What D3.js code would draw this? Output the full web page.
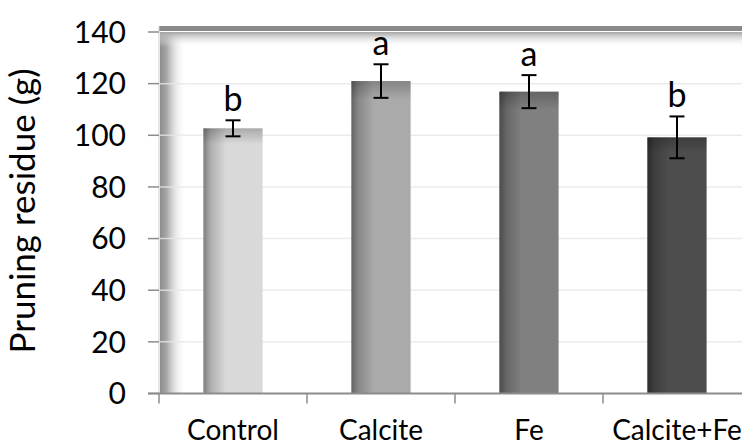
<!DOCTYPE html>
<html>
<head>
<meta charset="utf-8">
<script src="https://cdn.jsdelivr.net/npm/d3@7"></script>
<style>
  body { margin: 0; background: #fff; }
  text { font-family: Lato, "Open Sans", sans-serif; fill: #000; }
</style>
</head>
<body>
<div id="plot"></div>
<script>
var categories = ["Control", "Calcite", "Fe", "Calcite+Fe"];
var means = [102.7, 121.0, 116.9, 99.2];
var errors = [3.1, 6.5, 6.4, 8.1];
var letters = ["b", "a", "a", "b"];
var barColors = ["#d9d9d9", "#aaaaaa", "#808080", "#4d4d4d"];
var yTicks = [0, 20, 40, 60, 80, 100, 120, 140];

var W = 742, H = 446;
var margin = {top: 32, left: 159, right: -9, bottom: 52.5};
var plotBottom = H - margin.bottom;
var plotRight = W - margin.right;

var svg = d3.select("#plot").append("svg")
  .attr("width", W)
  .attr("height", H);

var defs = svg.append("defs");

// wall and floor shading
var wallG = defs.append("linearGradient").attr("id", "wallG")
  .attr("x1", 0).attr("x2", 1).attr("y1", 0).attr("y2", 0);
wallG.append("stop").attr("offset", 0).attr("stop-color", "#8c8c8c").attr("stop-opacity", 1);
wallG.append("stop").attr("offset", 0.25).attr("stop-color", "#9c9c9c").attr("stop-opacity", 0.9);
wallG.append("stop").attr("offset", 1).attr("stop-color", "#ffffff").attr("stop-opacity", 0);

var topG = defs.append("linearGradient").attr("id", "topG")
  .attr("x1", 0).attr("x2", 0).attr("y1", 0).attr("y2", 1);
topG.append("stop").attr("offset", 0).attr("stop-color", "#a4a4a4").attr("stop-opacity", 1);
topG.append("stop").attr("offset", 1).attr("stop-color", "#ffffff").attr("stop-opacity", 0);

// bar shading
var barH = defs.append("linearGradient").attr("id", "barH")
  .attr("x1", 0).attr("x2", 1).attr("y1", 0).attr("y2", 0);
barH.append("stop").attr("offset", 0).attr("stop-color", "#000").attr("stop-opacity", 0.42);
barH.append("stop").attr("offset", 0.12).attr("stop-color", "#000").attr("stop-opacity", 0.2);
barH.append("stop").attr("offset", 0.38).attr("stop-color", "#000").attr("stop-opacity", 0);

var barV = defs.append("linearGradient").attr("id", "barV")
  .attr("x1", 0).attr("x2", 0).attr("y1", 0).attr("y2", 1);
barV.append("stop").attr("offset", 0).attr("stop-color", "#000").attr("stop-opacity", 0.22);
barV.append("stop").attr("offset", 0.06).attr("stop-color", "#000").attr("stop-opacity", 0);

var x = d3.scaleBand()
  .domain(categories)
  .range([margin.left, margin.left + 4 * 148])
  .paddingInner(0.6)
  .paddingOuter(0.3);

var y = d3.scaleLinear()
  .domain([0, 140])
  .range([plotBottom, margin.top]);

// shading on the chart walls
svg.append("rect")
  .attr("x", margin.left + 1).attr("y", margin.top)
  .attr("width", 26).attr("height", plotBottom - margin.top)
  .attr("fill", "url(#wallG)");
svg.append("rect")
  .attr("x", margin.left + 1).attr("y", margin.top)
  .attr("width", plotRight - margin.left).attr("height", 15)
  .attr("fill", "url(#topG)");
svg.append("rect")
  .attr("x", margin.left).attr("y", margin.top - 6)
  .attr("width", plotRight - margin.left).attr("height", 5)
  .attr("fill", "#8a8a8a");
svg.append("line")
  .attr("x1", margin.left).attr("x2", margin.left)
  .attr("y1", margin.top - 6).attr("y2", plotBottom)
  .attr("stroke", "#d0d0d0").attr("stroke-width", 1);

// gridlines
svg.append("g").selectAll("line")
  .data(yTicks.slice(1, -1))
  .enter().append("line")
  .attr("x1", margin.left + 1).attr("x2", plotRight)
  .attr("y1", function(d) { return y(d); })
  .attr("y2", function(d) { return y(d); })
  .attr("stroke", "#e6e6e6").attr("stroke-width", 1.5)
  .attr("stroke-opacity", 0.8);

// y ticks + labels
var yAxis = svg.append("g");
yAxis.selectAll("line")
  .data(yTicks)
  .enter().append("line")
  .attr("x1", margin.left - 11).attr("x2", margin.left)
  .attr("y1", function(d) { return y(d); })
  .attr("y2", function(d) { return y(d); })
  .attr("stroke", "#8c8c8c").attr("stroke-width", 1.5);
yAxis.selectAll("text")
  .data(yTicks)
  .enter().append("text")
  .attr("x", 126)
  .attr("y", function(d) { return y(d); })
  .attr("dy", "0.36em")
  .attr("text-anchor", "end")
  .style("font-size", "30px")
  .text(function(d) { return d; });

// bars
var bars = svg.append("g").selectAll("g")
  .data(categories)
  .enter().append("g");

bars.append("rect")
  .attr("x", function(d) { return x(d); })
  .attr("y", function(d, i) { return y(means[i]); })
  .attr("width", x.bandwidth())
  .attr("height", function(d, i) { return y(0) - y(means[i]); })
  .attr("fill", function(d, i) { return barColors[i]; });
bars.append("rect")
  .attr("x", function(d) { return x(d); })
  .attr("y", function(d, i) { return y(means[i]); })
  .attr("width", x.bandwidth())
  .attr("height", function(d, i) { return y(0) - y(means[i]); })
  .attr("fill", "url(#barH)");
bars.append("rect")
  .attr("x", function(d) { return x(d); })
  .attr("y", function(d, i) { return y(means[i]); })
  .attr("width", x.bandwidth())
  .attr("height", function(d, i) { return y(0) - y(means[i]); })
  .attr("fill", "url(#barV)");

// error bars
var cx = function(d) { return x(d) + x.bandwidth() / 2; };
var err = svg.append("g").attr("stroke", "#000").attr("stroke-width", 2);
err.selectAll(".stem").data(categories).enter().append("line")
  .attr("x1", cx).attr("x2", cx)
  .attr("y1", function(d, i) { return y(means[i] + errors[i]); })
  .attr("y2", function(d, i) { return y(means[i] - errors[i]); });
[1, -1].forEach(function(s) {
  err.selectAll(".cap" + s).data(categories).enter().append("line")
    .attr("x1", function(d) { return cx(d) - 7.5; })
    .attr("x2", function(d) { return cx(d) + 7.5; })
    .attr("y1", function(d, i) { return y(means[i] + s * errors[i]); })
    .attr("y2", function(d, i) { return y(means[i] + s * errors[i]); });
});

// significance letters
svg.append("g").selectAll("text")
  .data(categories)
  .enter().append("text")
  .attr("x", cx)
  .attr("y", function(d, i) { return y(means[i] + errors[i]) - 9; })
  .attr("text-anchor", "middle")
  .style("font-size", "34px")
  .text(function(d, i) { return letters[i]; });

// x axis
svg.append("line")
  .attr("x1", margin.left - 11).attr("x2", plotRight)
  .attr("y1", plotBottom).attr("y2", plotBottom)
  .attr("stroke", "#8c8c8c").attr("stroke-width", 2);
var step = x.step();
svg.append("g").selectAll("line")
  .data(categories)
  .enter().append("line")
  .attr("x1", function(d) { return x(d) - step * 0.3; })
  .attr("x2", function(d) { return x(d) - step * 0.3; })
  .attr("y1", plotBottom).attr("y2", plotBottom + 10)
  .attr("stroke", "#8c8c8c").attr("stroke-width", 1.5);
svg.append("g").selectAll("text")
  .data(categories)
  .enter().append("text")
  .attr("x", cx)
  .attr("y", 440)
  .attr("text-anchor", "middle")
  .style("font-size", "28px")
  .text(function(d) { return d; });

// y title
svg.append("text")
  .attr("transform", "translate(35," + 211 + ") rotate(-90)")
  .attr("text-anchor", "middle")
  .style("font-size", "35px")
  .text("Pruning residue (g)");
</script>
</body>
</html>
